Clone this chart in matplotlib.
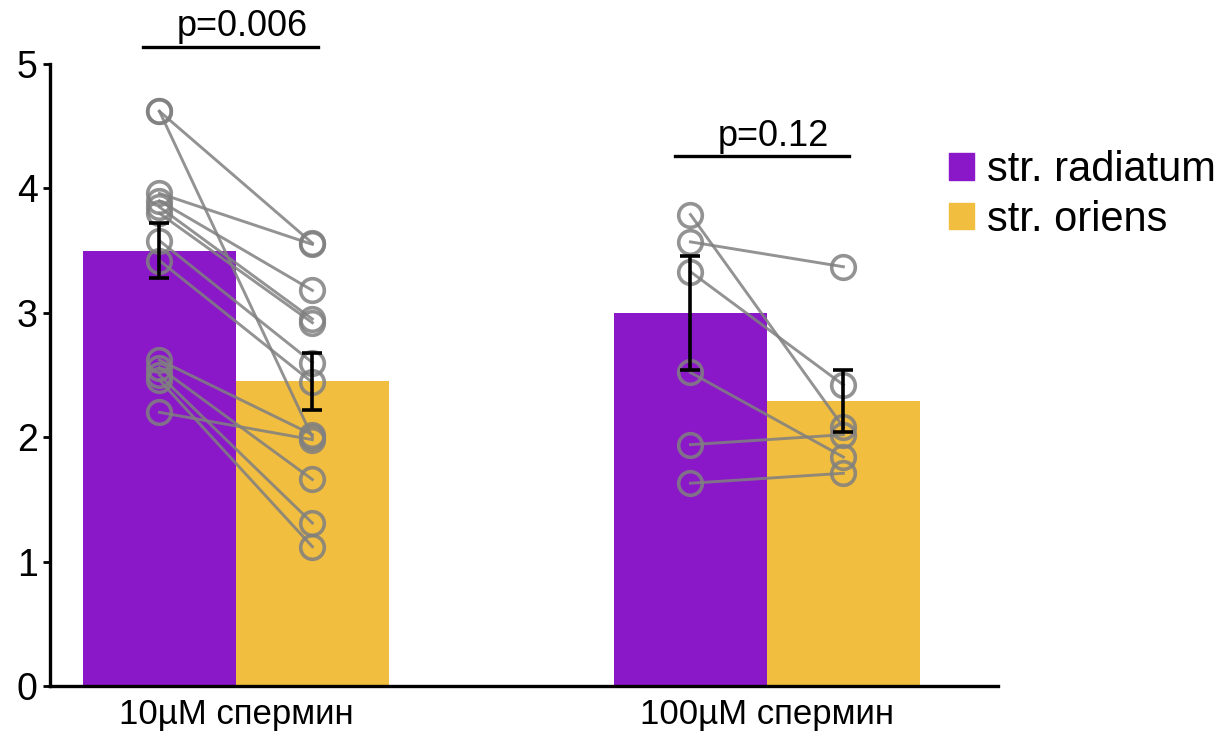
import matplotlib
matplotlib.use("Agg")
import matplotlib.pyplot as plt
from matplotlib.patches import Patch
import numpy as np

plt.rcParams['font.family'] = ['Liberation Sans', 'DejaVu Sans']

groups = ["10µM спермин", "100µM спермин"]
layers = ["str. radiatum", "str. oriens"]
colors = ["#8a18c8", "#f2be40"]

# bar means and error (SEM) per group: [radiatum, oriens]
means = [[3.50, 2.45], [3.00, 2.29]]
errs = [[0.22, 0.23], [0.46, 0.25]]

# paired values per slice, radiatum -> oriens
rad_10 = [4.62, 4.62, 3.96, 3.90, 3.85, 3.80, 3.58, 3.42, 2.62, 2.56, 2.50, 2.46, 2.20]
ori_10 = [3.56, 2.00, 3.55, 3.18, 2.95, 2.92, 2.60, 2.44, 2.02, 1.66, 1.31, 1.12, 1.98]
rad_100 = [3.79, 3.57, 3.33, 2.52, 1.94, 1.63]
ori_100 = [2.08, 3.37, 2.42, 1.84, 2.02, 1.71]

pvals = ["p=0.006", "p=0.12"]
sig_y = [5.14, 4.26]

fig = plt.figure(figsize=(12.29, 7.37), dpi=100)
ax = fig.add_axes([0.0407, 0.0692, 0.7713, 0.8440])

w = 0.288
x = np.arange(len(groups))
pairs = [(rad_10, ori_10), (rad_100, ori_100)]

for i in range(len(groups)):
    xl, xr = x[i] - w / 2, x[i] + w / 2
    ax.bar(xl, means[i][0], width=w, color=colors[0], zorder=1)
    ax.bar(xr, means[i][1], width=w, color=colors[1], zorder=1)
    left, right = pairs[i]
    for a, b in zip(left, right):
        ax.plot([xl, xr], [a, b], color="#808080", lw=2.1, alpha=0.85, zorder=2,
                marker="o", markersize=17, markerfacecolor="none",
                markeredgewidth=2.6, markeredgecolor="#808080")
    ax.errorbar([xl, xr], means[i], yerr=errs[i], fmt="none", ecolor="black",
                elinewidth=2.6, capsize=7.5, capthick=2.6, zorder=3)
    # significance bar
    ax.plot([xl - 0.03, xr + 0.01], [sig_y[i], sig_y[i]], color="black", lw=2.4,
            clip_on=False)
    ax.text(x[i] + 0.012, sig_y[i] + 0.02, pvals[i], ha="center", va="bottom",
            fontsize=26, clip_on=False)

ax.set_xlim(-0.350, 1.435)
ax.set_ylim(0, 5)
ax.set_yticks([0, 1, 2, 3, 4, 5])
ax.set_xticks(x)
ax.set_xticklabels(groups)
ax.tick_params(axis="y", labelsize=27, length=5, width=2, pad=4)
ax.tick_params(axis="x", labelsize=25, length=0, pad=9)

for s in ["top", "right"]:
    ax.spines[s].set_visible(False)
for s in ["left", "bottom"]:
    ax.spines[s].set_linewidth(2.4)

handles = [Patch(color=c, label=l) for c, l in zip(colors, layers)]
fig.legend(handles=handles, loc="upper left", bbox_to_anchor=(0.772, 0.796),
           frameon=False, fontsize=30, handlelength=0.6, handleheight=0.6,
           handletextpad=0.32, labelspacing=0.22, borderaxespad=0, borderpad=0)

fig.savefig("out.png", dpi=100)
